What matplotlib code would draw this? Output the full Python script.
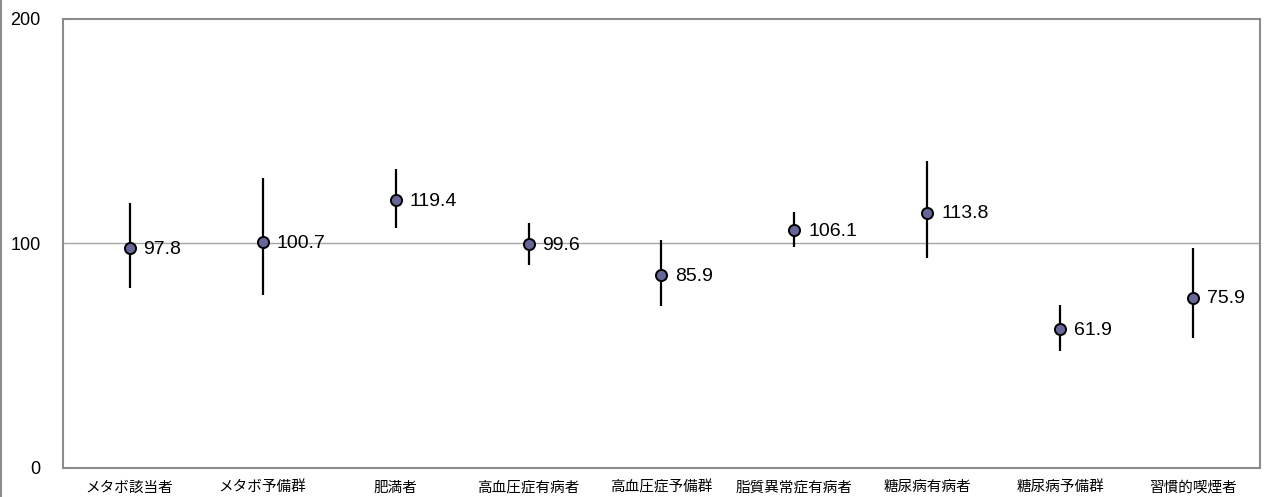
import matplotlib.pyplot as plt
import matplotlib.lines as mlines
import numpy as np

plt.rcParams['font.family'] = ['Liberation Sans', 'Noto Sans CJK JP', 'DejaVu Sans']

# categories and values
categories = ['メタボ該当者', 'メタボ予備群', '肥満者', '高血圧症有病者', '高血圧症予備群',
              '脂質異常症有病者', '糖尿病有病者', '糖尿病予備群', '習慣的喫煙者']
values = [97.8, 100.7, 119.4, 99.6, 85.9, 106.1, 113.8, 61.9, 75.9]
upper = [118.2, 129.0, 133.0, 109.0, 101.6, 114.2, 136.7, 72.6, 97.9]
lower = [80.0, 77.1, 107.0, 90.6, 72.2, 98.3, 93.7, 52.2, 57.8]
y_ticks = [0, 100, 200]

fig = plt.figure(figsize=(12.71, 4.97), dpi=100)
ax = fig.add_axes([0.0496, 0.0584, 0.9417, 0.9034])

x = np.arange(len(categories))
vals = np.array(values)
yerr = [vals - np.array(lower), np.array(upper) - vals]

# reference line at 100
ax.axhline(100, color='#a6a6a6', linewidth=1, zorder=1)

ax.errorbar(x, vals, yerr=yerr, fmt='o', color='black', ecolor='black',
            elinewidth=1.6, capsize=0, markersize=8, markerfacecolor='#666699',
            markeredgecolor='black', markeredgewidth=1.4, zorder=3)

# data labels to the right of the points
for xi, v in zip(x, values):
    ax.annotate(f'{v:.1f}', (xi, v), xytext=(10, -1), textcoords='offset points',
                va='center', ha='left', fontsize=14, color='black')

ax.set_xlim(-0.5, len(categories) - 0.5)
ax.set_ylim(0, 200)
ax.set_yticks(y_ticks)
ax.set_yticklabels([str(t) for t in y_ticks], fontsize=13)
ax.set_xticks(x)
ax.set_xticklabels(categories, fontsize=10.5, family=['Noto Sans CJK JP', 'DejaVu Sans'])
ax.tick_params(axis='y', length=0, pad=16)
ax.tick_params(axis='x', length=0, pad=9)

for s in ax.spines.values():
    s.set_color('#8c8c8c')
    s.set_linewidth(1.5)

# thin gray border on the left edge of the image
fig.add_artist(mlines.Line2D([0.0008, 0.0008], [0, 1], color='#8c8c8c', linewidth=1.5,
                             transform=fig.transFigure))

plt.savefig('out.png', dpi=100)
